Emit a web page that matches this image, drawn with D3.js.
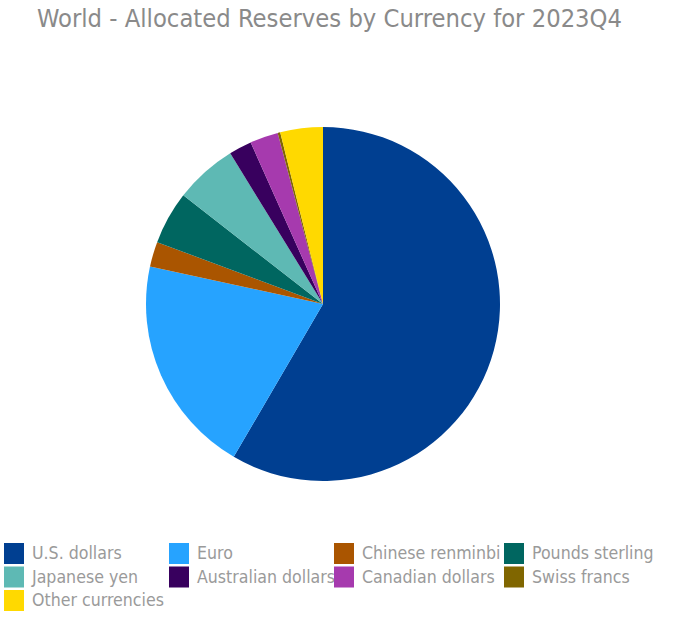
<!DOCTYPE html>
<html>
<head>
<meta charset="utf-8">
<script src="https://cdn.jsdelivr.net/npm/d3@7"></script>
<style>
  body { margin: 0; background: #fff; }
  text { font-family: "DejaVu Sans Condensed", "DejaVu Sans", sans-serif; }
</style>
</head>
<body>
<div id="chart"></div>
<script>
// currencies and their shares (%) of allocated reserves, 2023Q4
var currencies = ["U.S. dollars", "Euro", "Chinese renminbi", "Pounds sterling",
                  "Japanese yen", "Australian dollars", "Canadian dollars", "Swiss francs",
                  "Other currencies"];
var shares = [58.41, 19.98, 2.29, 4.84, 5.70, 2.08, 2.58, 0.23, 3.89];
var colors = ["#003f91", "#26a3ff", "#aa5500", "#006660", "#5eb9b4",
              "#38005e", "#a63aae", "#806600", "#ffd900"];

var width = 680, height = 633;
var svg = d3.select("#chart").append("svg")
    .attr("width", width)
    .attr("height", height);

// title
svg.append("text")
    .attr("x", 37)
    .attr("y", 27)
    .attr("fill", "#8a8a8a")
    .style("font-size", "25.3px")
    .text("World - Allocated Reserves by Currency for 2023Q4");

// pie
var data = currencies.map(function(c, i) { return { name: c, value: shares[i] }; });
var color = d3.scaleOrdinal().domain(currencies).range(colors);
var pie = d3.pie().sort(null).value(function(d) { return d.value; });
var arc = d3.arc().innerRadius(0).outerRadius(177);

var g = svg.append("g").attr("transform", "translate(323,304)");
g.selectAll("path")
    .data(pie(data))
    .enter()
    .append("path")
    .attr("d", arc)
    .attr("fill", function(d) { return color(d.data.name); });

// legend, 4 columns
var colX = [4, 169, 334, 504];
var legend = svg.append("g").attr("transform", "translate(0,543)");
var item = legend.selectAll("g")
    .data(currencies)
    .enter()
    .append("g")
    .attr("transform", function(d, i) {
        return "translate(" + colX[i % 4] + "," + (Math.floor(i / 4) * 23.5) + ")";
    });
item.append("rect")
    .attr("width", 20)
    .attr("height", 21)
    .attr("fill", function(d) { return color(d); });
item.append("text")
    .attr("x", 28)
    .attr("y", 16)
    .attr("fill", "#9a9a9a")
    .style("font-size", "17.6px")
    .text(function(d) { return d; });
</script>
</body>
</html>
